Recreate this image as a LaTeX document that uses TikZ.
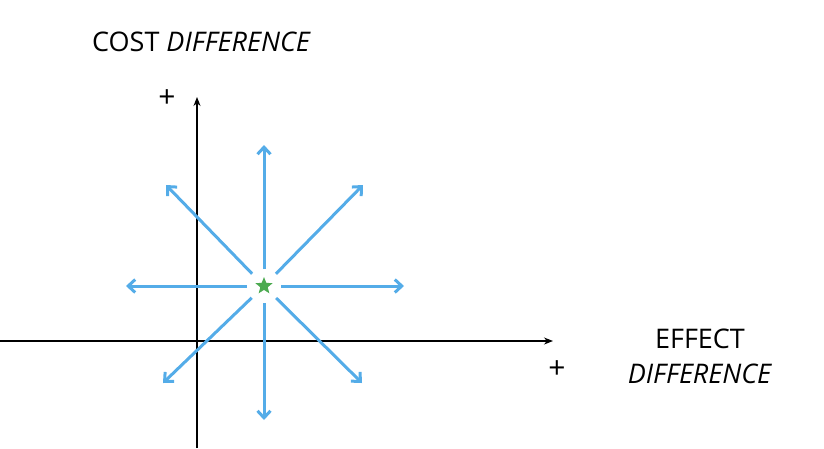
\documentclass[tikz,border=0pt]{standalone}
\usepackage{fontspec}
\setmainfont{Open Sans}
\usetikzlibrary{arrows.meta,shapes.geometric,calc}
\definecolor{arrblue}{RGB}{84,172,232}
\definecolor{stargreen}{RGB}{76,170,80}
\tikzset{
  axis/.style={line width=1.2pt,-{Stealth[length=9pt,width=7pt]}},
  ray/.style={arrblue,line width=3pt,-{Straight Barb[length=7pt,width=13pt]}},
  lbl/.style={font=\fontsize{27}{30}\selectfont,inner sep=0pt},
  plus/.style={font=\fontsize{30}{30}\selectfont,inner sep=0pt}
}
\begin{document}
\begin{tikzpicture}[x=1pt,y=-1pt]
\useasboundingbox (0,0) rectangle (824,448);
\coordinate (xs) at (0,341); \coordinate (xe) at (553,341);
\coordinate (ys) at (197,448); \coordinate (ye) at (197,97);
\draw[axis] (xs) -- (xe);
\draw[axis] (ys) -- (ye);
\node[star,star points=5,star point ratio=2.3,fill=stargreen,minimum size=18pt,inner sep=0pt] (c) at (264,286) {};
\foreach \n/\px/\py in {u/264/145, d/264/420, l/126/286, r/404/286, ul/166/185, ur/363/185, dl/163/383, dr/362/383}{
  \coordinate (\n) at (\px,\py);
  \draw[ray] ($(c)!17pt!(\n)$) -- (\n);
}
\node[lbl,anchor=west] (yl) at (92,42) {COST \textit{DIFFERENCE}};
\node[plus] (yp) at (167,99) {+};
\node[plus] (xp) at (557,370) {+};
\node[lbl] (xl1) at (700,339) {EFFECT};
\node[lbl] (xl2) at (700,374) {\textit{DIFFERENCE}};
\end{tikzpicture}
\end{document}
